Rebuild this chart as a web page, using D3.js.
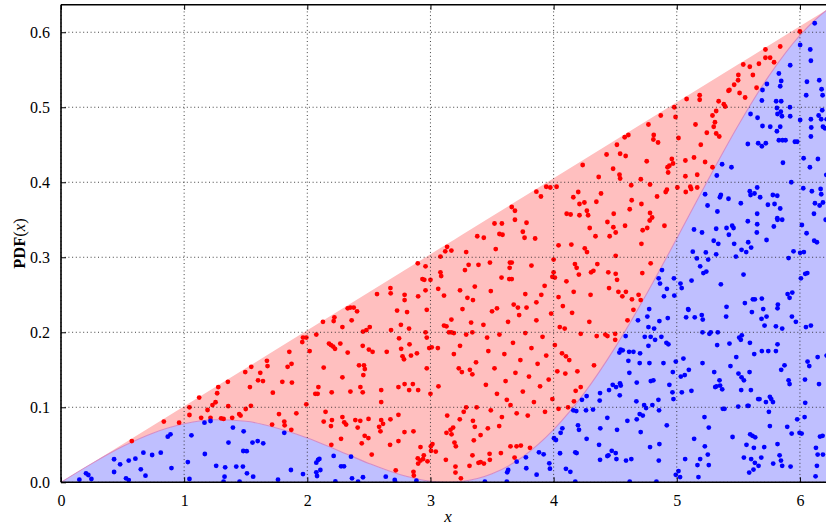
<!DOCTYPE html>
<html>
<head>
<meta charset="utf-8">
<script src="https://cdn.jsdelivr.net/npm/d3@7"></script>
<style>
  body { margin: 0; background: #fff; }
  text { font-family: "Liberation Serif", "DejaVu Serif", serif; fill: #000; }
</style>
</head>
<body>
<div id="chart"></div>
<script>
const width = 826;
const height = 526;
const margin = { top: 4.8, left: 61 };
const plotWidth = 773.8; // the axes run past the right edge of the picture
const plotHeight = 477.5;

const xDomain = [0, 6.2832];
const yDomain = [0, 0.6366];
const xTicks = [0, 1, 2, 3, 4, 5, 6];
const yTicks = [0.0, 0.1, 0.2, 0.3, 0.4, 0.5, 0.6];

// curves
const curveX = [0, 0.25, 0.5, 0.75, 1, 1.25, 1.5, 1.75, 2, 2.25, 2.5, 2.75, 3, 3.1416,
  3.25, 3.5, 3.75, 4, 4.25, 4.5, 4.75, 5, 5.25, 5.5, 5.75, 6, 6.25, 6.2832];
const envelopeY = [0, 0.0253, 0.0507, 0.076, 0.1013, 0.1267, 0.152, 0.1773, 0.2026, 0.228,
  0.2533, 0.2786, 0.304, 0.3183, 0.3293, 0.3546, 0.38, 0.4053, 0.4306, 0.4559, 0.4813,
  0.5066, 0.5319, 0.5573, 0.5826, 0.6079, 0.6332, 0.6366];
const pdfY = [0, 0.0249, 0.0476, 0.0658, 0.078, 0.0833, 0.0814, 0.0725, 0.0592, 0.0425,
  0.0252, 0.0105, 0.0015, 0, 0.001, 0.0113, 0.0341, 0.0702, 0.1192, 0.1799, 0.2497,
  0.3251, 0.4021, 0.4761, 0.5421, 0.5958, 0.6331, 0.6366];

// rejected samples (red)
const rejectedPoints = [
  [0.575,0.055],[0.835,0.081],[0.959,0.0795],[1.043,0.1],[1.043,0.0897],[1.122,0.113],[1.138,0.086],
  [1.19,0.0964],[1.214,0.086],[1.23,0.103],[1.255,0.1067],[1.268,0.1187],[1.277,0.127],[1.3,0.0853],
  [1.32,0.0845],[1.355,0.134],[1.358,0.1015],[1.39,0.086],[1.447,0.091],[1.458,0.089],[1.5,0.0977],
  [1.534,0.127],[1.542,0.102],[1.6,0.136],[1.64,0.135],[1.72,0.1195],[1.714,0.077],[1.77,0.091],
  [1.496,0.147],[1.545,0.154],[1.618,0.146],[1.672,0.162],[1.677,0.155],[1.797,0.134],[1.84,0.154],
  [1.854,0.174],[1.872,0.158],[1.875,0.133],[1.911,0.092],[1.959,0.187],[1.965,0.193],[1.992,0.193],
  [1.992,0.104],[2.019,0.175],[2.073,0.197],[2.065,0.118],[2.084,0.118],[2.09,0.127],[2.133,0.153],
  [2.127,0.214],[2.148,0.094],[2.133,0.081],[2.176,0.185],[2.192,0.183],[2.21,0.181],[2.214,0.215],
  [2.225,0.178],[2.22,0.22],[2.268,0.185],[2.285,0.207],[2.285,0.14],[2.285,0.087],[2.3,0.08],
  [2.198,0.12],[2.2,0.083],[2.328,0.232],[2.35,0.233],[2.377,0.233],[2.404,0.228],[2.36,0.216],
  [2.328,0.173],[2.35,0.121],[2.315,0.077],[2.39,0.083],[2.43,0.082],[2.431,0.127],[2.45,0.12],
  [2.452,0.201],[2.45,0.182],[2.42,0.156],[2.46,0.156],[2.467,0.151],[2.455,0.143],[2.48,0.203],
  [2.507,0.207],[2.497,0.0845],[2.5,0.177],[2.53,0.174],[2.566,0.251],[2.6,0.123],[2.6,0.107],
  [2.6,0.083],[2.645,0.174],[2.675,0.259],[2.677,0.252],[2.68,0.203],[2.675,0.084],[2.729,0.229],
  [2.745,0.192],[2.74,0.127],[2.76,0.21],[2.762,0.178],[2.773,0.168],[2.785,0.164],[2.79,0.25],
  [2.79,0.243],[2.79,0.131],[2.81,0.227],[2.826,0.205],[2.83,0.184],[2.842,0.169],[2.857,0.131],
  [2.897,0.292],[2.9,0.248],[2.89,0.172],[2.9,0.123],[2.935,0.271],[2.95,0.27],[2.96,0.256],
  [2.96,0.2],[2.97,0.193],[2.96,0.288],[2.97,0.152],[2.97,0.23],[2.99,0.179],[3.0,0.27],
  [3.01,0.18],[3.0,0.118],[3.06,0.179],[3.081,0.301],[3.081,0.28],[3.087,0.275],[3.11,0.249],
  [3.11,0.209],[3.13,0.208],[3.15,0.2],[3.17,0.2],[3.19,0.199],[3.12,0.308],[3.17,0.309],
  [3.135,0.314],[3.063,0.258],[3.17,0.217],[3.19,0.171],[3.24,0.256],[3.26,0.231],[3.29,0.197],
  [3.24,0.182],[3.23,0.152],[3.255,0.147],[3.29,0.307],[3.3,0.246],[3.31,0.29],[3.28,0.283],
  [3.33,0.213],[3.34,0.2],[3.345,0.243],[3.34,0.144],[3.36,0.261],[3.38,0.328],[3.32,0.15],
  [2.74,0.09],[2.827,0.123],[3.065,0.128],[3.136,0.089],[3.238,0.084],[3.27,0.094],[3.29,0.1],
  [3.375,0.1],[3.345,0.082],[2.615,0.078],[3.37,0.16],[3.39,0.29],
  [1.813,0.081],[1.816,0.076],[2.192,0.075],[2.409,0.073],[2.583,0.074],[3.163,0.07],[3.184,0.073],
  [3.36,0.074],[3.466,0.072],[3.558,0.075],
  [1.87,0.07],[2.594,0.068],[2.672,0.05],[2.74,0.055],[2.789,0.067],[2.862,0.068],[2.718,0.016],
  [2.862,0.014],[2.865,0.009],[2.919,0.047],[2.946,0.036],[2.94,0.031],[2.976,0.028],[2.919,0.029],
  [2.897,0.032],[3.003,0.048],[3.016,0.051],[3.005,0.042],[3.043,0.041],[3.13,0.066],[3.171,0.064],
  [3.195,0.053],[3.206,0.048],[3.352,0.056],[3.407,0.063],[3.341,0.036],[3.39,0.026],[3.407,0.027],
  [3.434,0.025],[3.48,0.038],[3.482,0.03],[3.572,0.039],[3.65,0.048],[3.699,0.048],[3.734,0.049],
  [3.808,0.046],[3.683,0.033],[3.247,0.0053],[3.203,0.013],[3.203,0.021],[3.125,0.03],[3.317,0.022],
  [2.195,0.05],[2.274,0.058],[2.442,0.052],[2.466,0.062],[2.496,0.059],[2.523,0.037],[2.9,0.025],
  [3.433,0.326],[3.52,0.345],[3.58,0.345],[3.56,0.331],[3.585,0.33],[3.53,0.311],[3.483,0.293],
  [3.645,0.293],[3.66,0.293],[3.643,0.286],[3.577,0.273],[3.64,0.271],[3.66,0.271],[3.49,0.255],
  [3.54,0.232],[3.66,0.367],[3.686,0.362],[3.686,0.35],[3.78,0.346],[3.75,0.334],[3.764,0.326],
  [3.85,0.325],[3.86,0.3875],[3.897,0.381],[3.94,0.394],[3.973,0.393],[4.024,0.394],[4.0,0.297],
  [4.0,0.28],[3.99,0.274],[4.01,0.273],[4.04,0.316],[4.144,0.317],[4.106,0.358],[4.138,0.357],
  [4.16,0.38],[4.2,0.387],[4.21,0.371],[4.25,0.373],[4.21,0.356],[4.28,0.356],[4.27,0.362],
  [4.347,0.374],[4.385,0.385],[4.366,0.407],[4.236,0.423],[4.293,0.339],[4.253,0.312],[4.271,0.307],
  [4.34,0.328],[4.323,0.282],[4.304,0.28],[4.437,0.347],[4.485,0.34],[4.504,0.333],[4.455,0.328],
  [4.488,0.358],[4.43,0.437],[4.54,0.438],[4.585,0.435],[4.483,0.418],[4.514,0.45],[4.54,0.405],
  [4.535,0.41],[4.577,0.46],[4.607,0.463],[4.504,0.302],[4.58,0.342],[4.618,0.364],[4.634,0.376],
  [4.713,0.371],[4.708,0.404],[4.63,0.396],[4.756,0.428],[4.783,0.397],[4.77,0.477],[4.813,0.463],
  [4.81,0.457],[4.848,0.453],[4.783,0.359],[4.8,0.353],[4.78,0.349],[4.76,0.339],[4.723,0.336],
  [4.713,0.318],[4.84,0.381],[4.87,0.489],[4.9,0.342],[4.91,0.387],[4.92,0.39],[4.925,0.42],
  [4.93,0.413],[4.94,0.422],[4.96,0.431],[4.97,0.425],[4.98,0.5],[4.99,0.487],[5.014,0.459],
  [5.005,0.393],[5.073,0.387],[5.07,0.408],[5.07,0.429],[5.08,0.511],[5.11,0.394],[5.117,0.391],
  [5.166,0.393],[5.14,0.433],[5.152,0.477],[5.166,0.41],[5.186,0.516],[5.186,0.51],[5.195,0.45],
  [5.23,0.427],[5.244,0.466],[5.29,0.489],[5.3,0.474],[5.31,0.48],[5.32,0.495],[5.32,0.465],
  [5.34,0.508],[5.345,0.461],[5.29,0.42],[4.173,0.291],[4.205,0.277],[4.355,0.291],[4.444,0.28],
  [4.45,0.259],[4.504,0.278],[4.526,0.254],[4.558,0.248],[4.587,0.254],[4.515,0.27],[4.636,0.244],
  [4.69,0.25],[4.72,0.279],[4.788,0.292],[4.3,0.25],[4.163,0.254],[4.04,0.247],[4.075,0.235],
  [3.9,0.25],[3.86,0.24],[3.77,0.251],[3.78,0.233],[3.71,0.233],[3.676,0.237],[3.82,0.289],
  [3.927,0.262],[4.104,0.268],[4.187,0.286],
  [5.382,0.504],[5.393,0.501],[5.42,0.522],[5.428,0.523],[5.466,0.53],[5.498,0.536],[5.5,0.543],
  [5.51,0.519],[5.54,0.557],[5.555,0.513],[5.593,0.554],[5.618,0.543],[5.648,0.526],[5.667,0.558],
  [5.72,0.577],[5.72,0.566],[5.758,0.566],[5.79,0.56],[5.84,0.581],[6.0,0.601],
  [4.437,0.195],[4.42,0.197],[4.5,0.198],[4.5,0.19],[4.6,0.216],[4.648,0.23],[4.707,0.243],
  [4.068,0.172],[4.1,0.168],[4.127,0.163],[4.095,0.145],[4.193,0.148],[4.328,0.156],[4.179,0.122],
  [4.22,0.127],[4.165,0.108],[4.117,0.1],
  [3.43,0.21],[3.45,0.13],[3.47,0.175],[3.49,0.096],[3.5,0.228],[3.52,0.152],[3.54,0.118],
  [3.56,0.197],[3.58,0.087],[3.6,0.171],[3.61,0.135],[3.63,0.214],[3.65,0.103],[3.67,0.186],
  [3.69,0.146],[3.7,0.092],[3.72,0.223],[3.73,0.163],[3.75,0.121],[3.77,0.199],[3.79,0.089],
  [3.8,0.141],[3.82,0.179],[3.84,0.107],[3.86,0.216],[3.87,0.158],[3.89,0.128],[3.91,0.194],
  [3.93,0.094],[3.94,0.169],[3.96,0.137],[3.98,0.225],[3.99,0.111],[4.01,0.183],[4.03,0.148],
  [4.04,0.098],[4.05,0.207],[3.46,0.193],[3.62,0.11],[4.09,0.205],[4.15,0.226],[4.22,0.198],
  [4.29,0.214],[4.35,0.195]
];

// accepted samples (blue)
const acceptedPoints = [
  [0.149,0.0035],[0.203,0.012],[0.222,0.0097],[0.247,0.0044],[0.431,0.0307],[0.431,0.0137],[0.48,0.024],
  [0.55,0.029],[0.528,0.0053],[0.55,0.003],[0.604,0.0315],[0.648,0.0173],[0.669,0.0395],[0.686,0.0088],
  [0.74,0.0364],[0.81,0.0395],[0.867,0.0608],[0.889,0.064],[0.897,0.019],[1.03,0.027],[1.043,0.0044],
  [1.059,0.0626],[1.165,0.0795],[1.214,0.0817],[1.168,0.0377],[1.26,0.022],[1.333,0.02],[1.328,0.0075],
  [1.32,0.001],[1.36,0.053],[1.396,0.073],[1.423,0.021],[1.45,0.001],[1.477,0.021],[1.48,0.0417],
  [1.508,0.0415],[1.483,0.068],[1.51,0.012],[1.555,0.053],[1.597,0.055],[1.642,0.052],[1.56,0.0075],
  [1.762,0.0035],
  [1.813,0.066],[1.867,0.0164],[1.965,0.011],[2.073,0.0262],[2.087,0.0298],[2.098,0.0311],[2.073,0.0133],
  [2.079,0.0084],[2.106,0.0164],[2.214,0.0351],[2.274,0.0213],[2.298,0.0213],[2.355,0.0342],[2.363,0.0053],
  [2.412,0.001],[2.452,0.0067],[2.228,0.0012],[2.637,0.0075],[2.71,0.0031],[2.713,0.001],[2.886,0.0022],
  [3.442,0.001],[3.623,0.0133],[3.631,0.0164],[3.7,0.0275],[3.775,0.0333],[3.778,0.0187],[3.862,0.0102],
  [3.881,0.04],[3.919,0.0373],[3.965,0.0253],[3.97,0.0182],[4.003,0.0587],[4.019,0.0564],[4.052,0.0387],
  [3.62,0.001],
  [4.77,0.182],[4.824,0.19],[4.916,0.186],[4.932,0.184],[4.992,0.161],[5.054,0.165],[5.098,0.15],
  [5.209,0.159],[5.304,0.147],[5.328,0.183],[5.428,0.185],[5.52,0.19],[5.594,0.186],[5.629,0.171],
  [5.691,0.175],[5.743,0.175],[5.805,0.175],[5.818,0.184],[5.483,0.167],[5.436,0.155],[5.501,0.145],
  [5.591,0.147],[5.875,0.156],[5.848,0.15],[5.908,0.136],[5.916,0.131],[6.062,0.161],[6.076,0.155],
  [6.144,0.167],[6.217,0.169],[6.041,0.137],[6.155,0.131],[4.545,0.177],[4.561,0.176],[4.534,0.173],
  [4.613,0.174],[4.648,0.174],[4.702,0.172],[4.607,0.162],[4.699,0.159],[4.778,0.159],[4.892,0.159],
  [4.615,0.146],[4.675,0.133],[4.789,0.135],[4.81,0.136],[4.94,0.13],[4.968,0.147],[4.973,0.111],
  [4.965,0.12],[5.033,0.141],[5.041,0.12],[5.065,0.143],[5.119,0.122],[4.539,0.132],[4.545,0.129],
  [4.507,0.127],[4.48,0.13],[4.45,0.123],[4.377,0.119],[4.374,0.109],[4.537,0.116],[4.672,0.108],
  [4.735,0.103],[4.751,0.099],[4.802,0.103],[4.851,0.11],[4.856,0.096],[4.724,0.089],[4.699,0.091],
  [4.675,0.084],[4.599,0.082],[4.436,0.086],[4.379,0.072],[4.515,0.07],[4.707,0.067],[4.268,0.115],
  [4.23,0.11],[4.184,0.095],[4.198,0.076],[4.206,0.07],[4.16,0.096],[4.32,0.097],[4.263,0.096],
  [4.071,0.072],[4.057,0.066],[4.268,0.058],[4.369,0.05],[4.377,0.03],[4.436,0.035],[4.445,0.036],
  [4.472,0.042],[4.504,0.039],[4.51,0.031],[4.588,0.029],[4.631,0.031],[4.783,0.047],[4.854,0.029],
  [4.859,0.051],[4.919,0.076],[4.176,0.04],[4.187,0.039],[4.1,0.018],[4.136,0.014],[4.176,0.001],
  [4.618,0.001],[4.835,0.001],[4.992,0.01],[5.014,0.015],[5.027,0.007],[5.068,0.031],[5.141,0.058],
  [5.168,0.023],[5.176,0.007],[5.19,0.031],[5.228,0.048],[5.252,0.037],[5.26,0.023],[5.26,0.073],
  [5.225,0.087],[5.312,0.127],[5.323,0.128],[5.347,0.136],[5.352,0.129],[5.369,0.124],[5.374,0.098],
  [5.388,0.098],[5.453,0.0604],[5.523,0.123],[5.545,0.136],[5.526,0.14],[5.575,0.102],[5.602,0.123],
  [5.661,0.111],[5.672,0.111],[5.724,0.107],[5.756,0.114],[5.767,0.111],[5.781,0.107],[5.748,0.094],
  [5.756,0.075],[5.566,0.05],[5.596,0.064],[5.615,0.062],[5.637,0.06],[5.626,0.046],[5.71,0.047],
  [5.818,0.051],[5.835,0.036],[5.846,0.029],[5.856,0.022],[5.783,0.025],[5.686,0.033],[5.604,0.031],
  [5.545,0.033],[5.634,0.026],[5.623,0.017],[5.588,0.013],[5.664,0.022],[5.924,0.021],[5.897,0.074],
  [5.933,0.065],[5.978,0.084],[5.997,0.066],[6.014,0.065],[6.038,0.087],[6.043,0.106],[6.13,0.046],
  [6.144,0.037],[6.138,0.022],[6.184,0.062],[6.187,0.037],[6.127,0.008],[6.163,0.061],[5.499,0.101],
  [5.583,0.102],
  [5.325,0.409],[5.23,0.384],[5.25,0.369],[5.33,0.361],[5.14,0.337],[5.205,0.333],[5.32,0.338],
  [5.3,0.322],[5.13,0.3075],[5.163,0.2985],[5.236,0.3065],[5.255,0.297],[5.19,0.288],[5.216,0.279],
  [5.24,0.281],[5.32,0.304],[4.88,0.283],[4.853,0.272],[4.864,0.265],[4.92,0.258],[4.977,0.272],
  [5.03,0.265],[5.04,0.259],[5.12,0.269],[4.98,0.249],[4.896,0.248],[4.776,0.231],[5.092,0.231],
  [5.337,0.318],[5.35,0.38],
  [4.685,0.216],[4.761,0.221],[4.77,0.207],[4.816,0.205],[4.859,0.215],[4.927,0.219],[5.076,0.22],
  [5.095,0.23],[5.146,0.22],[5.203,0.223],[5.211,0.217],[5.209,0.2],[5.276,0.2],[5.265,0.198],
  [5.333,0.2],[4.788,0.194],[4.74,0.194],[4.585,0.195],[4.875,0.194],
  [6.002,0.583],[6.084,0.577],[6.089,0.562],[5.921,0.556],[5.829,0.545],[5.848,0.535],[5.84,0.528],
  [5.732,0.531],[5.696,0.523],[5.691,0.509],[5.807,0.508],[5.848,0.508],[5.919,0.5],[6.002,0.483],
  [5.921,0.488],[5.813,0.499],[5.818,0.491],[5.845,0.494],[5.854,0.488],[5.599,0.491],[5.656,0.486],
  [5.696,0.475],[5.759,0.474],[5.84,0.474],[5.813,0.468],[5.829,0.456],[5.859,0.456],[5.883,0.456],
  [5.959,0.454],[5.978,0.454],[6.051,0.516],[6.057,0.534],[6.157,0.536],[6.176,0.524],[6.184,0.516],
  [6.181,0.496],[6.152,0.489],[6.089,0.484],[6.092,0.473],[6.089,0.461],[6.187,0.474],[6.173,0.484],
  [6.203,0.472],[6.217,0.484],[5.661,0.452],[5.691,0.448],[5.577,0.451],[5.723,0.452],[5.862,0.426],
  [5.93,0.4],[6.03,0.432],[6.027,0.392],[6.081,0.42],[6.146,0.431],[6.097,0.388],[6.214,0.41],
  [6.168,0.391],[6.173,0.384],[6.16,0.369],[6.122,0.372],[6.187,0.373],[6.114,0.358],[6.016,0.343],
  [6.054,0.332],[6.116,0.322],[6.138,0.32],[6.209,0.35],[6.002,0.306],[6.032,0.307],[5.948,0.308],
  [5.908,0.299],[6.008,0.272],[6.043,0.278],[6.06,0.279],[5.916,0.246],[5.938,0.253],[5.9,0.251],
  [5.967,0.214],[5.935,0.221],[6.049,0.207],[6.089,0.209],[5.816,0.382],[5.78,0.383],[5.74,0.37],
  [5.794,0.371],[5.84,0.365],[5.816,0.352],[5.818,0.35],[5.856,0.35],[5.788,0.341],[5.653,0.393],
  [5.593,0.388],[5.599,0.383],[5.631,0.385],[5.677,0.38],[5.653,0.358],[5.653,0.344],[5.65,0.333],
  [5.729,0.323],[5.58,0.32],[5.604,0.313],[5.564,0.307],[5.526,0.31],[5.48,0.301],[5.466,0.318],
  [5.461,0.339],[5.45,0.342],[5.423,0.33],[5.404,0.339],[5.358,0.264],[5.542,0.277],[5.553,0.239],
  [5.618,0.244],[5.634,0.244],[5.61,0.227],[5.691,0.245],[5.702,0.231],[5.688,0.218],[5.713,0.209],
  [5.729,0.221],[5.821,0.237],[5.818,0.232],[5.805,0.208],[5.856,0.205],[5.404,0.234],[5.401,0.221],
  [5.507,0.193],[5.528,0.196],[5.368,0.424],[5.444,0.42],[5.42,0.378],[5.358,0.383],[5.52,0.372],
  [5.577,0.348],[6.12,0.612]
];

const x = d3.scaleLinear().domain(xDomain).range([margin.left, margin.left + plotWidth]);
const y = d3.scaleLinear().domain(yDomain).range([margin.top + plotHeight, margin.top]);

const svg = d3
  .select("#chart")
  .append("svg")
  .attr("width", width)
  .attr("height", height);

svg
  .append("clipPath")
  .attr("id", "plotClip")
  .append("rect")
  .attr("x", margin.left)
  .attr("y", margin.top)
  .attr("width", plotWidth)
  .attr("height", plotHeight);

const plot = svg.append("g").attr("clip-path", "url(#plotClip)");

const curveData = curveX.map((cx, i) => ({ x: cx, env: envelopeY[i], pdf: pdfY[i] }));

// red band between the pdf and the envelope
plot
  .append("path")
  .datum(curveData)
  .attr("fill", "#ffbfbf")
  .attr("d", d3.area().curve(d3.curveMonotoneX)
    .x((d) => x(d.x)).y0((d) => y(d.pdf)).y1((d) => y(d.env)));

// blue area under the pdf
plot
  .append("path")
  .datum(curveData)
  .attr("fill", "#bfbfff")
  .attr("d", d3.area().curve(d3.curveMonotoneX)
    .x((d) => x(d.x)).y0(y(0)).y1((d) => y(d.pdf)));

plot
  .append("path")
  .datum(curveData)
  .attr("fill", "none")
  .attr("stroke", "#d68cc4")
  .attr("stroke-width", 1.1)
  .attr("d", d3.line().curve(d3.curveMonotoneX).x((d) => x(d.x)).y((d) => y(d.pdf)));

// dotted grid
const grid = svg.append("g").attr("stroke", "#222").attr("stroke-width", 1)
  .attr("stroke-dasharray", "1,2.7").attr("opacity", 0.85);
grid.selectAll(".vgrid").data(xTicks).enter().append("line")
  .attr("x1", (d) => x(d)).attr("x2", (d) => x(d))
  .attr("y1", y(yDomain[0])).attr("y2", y(yDomain[1]));
grid.selectAll(".hgrid").data(yTicks).enter().append("line")
  .attr("x1", x(0)).attr("x2", x(xDomain[1]))
  .attr("y1", (d) => y(d)).attr("y2", (d) => y(d));

// samples
plot.selectAll(".rej").data(rejectedPoints).enter().append("circle")
  .attr("cx", (d) => x(d[0])).attr("cy", (d) => y(d[1])).attr("r", 2.4).attr("fill", "#ff0000");
plot.selectAll(".acc").data(acceptedPoints).enter().append("circle")
  .attr("cx", (d) => x(d[0])).attr("cy", (d) => y(d[1])).attr("r", 2.4).attr("fill", "#0000ff");

// axes with inward ticks
const xAxis = svg.append("g").attr("transform", `translate(0,${y(0)})`)
  .call(d3.axisBottom(x).tickValues(xTicks).tickSize(-5).tickPadding(12).tickFormat(d3.format("d")));
const xAxisTop = svg.append("g").attr("transform", `translate(0,${y(yDomain[1])})`)
  .call(d3.axisTop(x).tickValues(xTicks).tickSize(-5).tickFormat(""));
const yAxis = svg.append("g").attr("transform", `translate(${x(0)},0)`)
  .call(d3.axisLeft(y).tickValues(yTicks).tickSize(-5).tickPadding(11).tickFormat(d3.format(".1f")));

[xAxis, xAxisTop, yAxis].forEach((g) => {
  g.select(".domain").remove();
  g.selectAll(".tick line").attr("stroke", "#000").attr("stroke-width", 1);
  g.selectAll(".tick text").style("font-family", "Liberation Serif, serif").style("font-size", "16px");
});

// spines
const spines = svg.append("g").attr("stroke", "#000").attr("stroke-width", 1.6).attr("fill", "none");
spines.append("line").attr("x1", x(0)).attr("x2", x(0)).attr("y1", y(yDomain[1])).attr("y2", y(0));
spines.append("line").attr("x1", x(0)).attr("x2", x(xDomain[1])).attr("y1", y(0)).attr("y2", y(0));
spines.append("line").attr("x1", x(0)).attr("x2", x(xDomain[1])).attr("y1", y(yDomain[1])).attr("y2", y(yDomain[1]));

// axis labels
svg
  .append("text")
  .attr("x", margin.left + plotWidth / 2)
  .attr("y", 521.5)
  .attr("text-anchor", "middle")
  .style("font-size", "17px")
  .style("font-style", "italic")
  .text("x");

const yLabel = svg
  .append("text")
  .attr("transform", `translate(25,${margin.top + plotHeight / 2}) rotate(-90)`)
  .attr("text-anchor", "middle")
  .style("font-size", "16.5px");
yLabel.append("tspan").style("font-weight", "bold").text("PDF");
yLabel.append("tspan").text("(");
yLabel.append("tspan").style("font-style", "italic").text("x");
yLabel.append("tspan").text(")");
</script>
</body>
</html>
